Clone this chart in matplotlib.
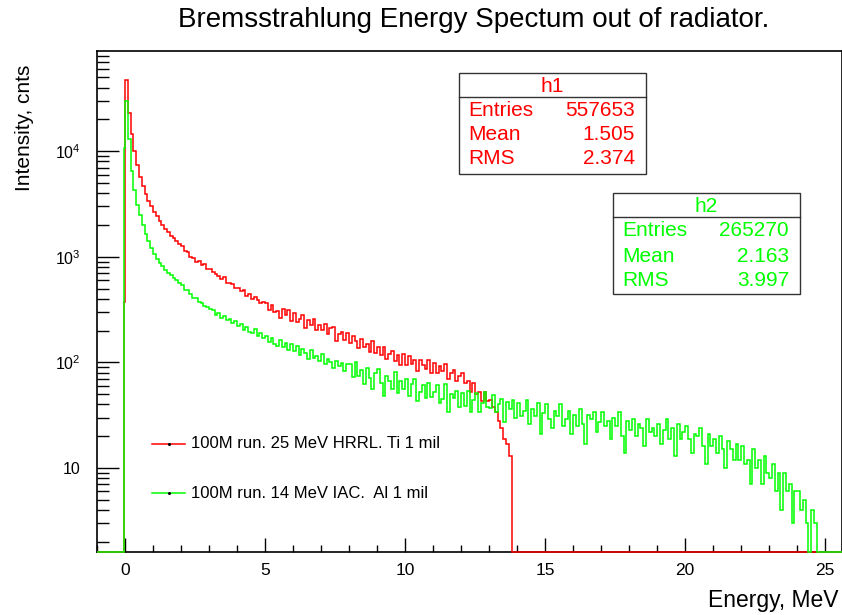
import numpy as np
import matplotlib
matplotlib.use("Agg")
import matplotlib.pyplot as plt
from matplotlib.patches import Rectangle
from matplotlib.lines import Line2D
from matplotlib.ticker import FixedLocator, MultipleLocator, NullFormatter

plt.rcParams['font.family'] = ['Liberation Sans', 'DejaVu Sans']
plt.rcParams['mathtext.fontset'] = 'custom'
plt.rcParams['mathtext.rm'] = 'Liberation Sans'
plt.rcParams['mathtext.it'] = 'Liberation Sans:italic'

W, H = 842, 615

# ---- data: counts per 0.1 MeV bin ----
red_first = 370      # narrow bin just below 0 MeV
green_first = 10700
red_counts = [
    47000, 23000, 14500, 10000, 7400, 5700, 4700, 3950, 3400, 3000,
    2660, 2420, 2190, 2010, 1840, 1730, 1590, 1510, 1400, 1330,
    1270, 1140, 1110, 1000, 985, 900, 910, 835, 850, 770,
    775, 715, 690, 665, 615, 640, 570, 560, 548, 505,
    512, 470, 488, 430, 445, 398, 420, 388, 362, 372,
    362, 312, 352, 299, 305, 264, 319, 281, 316, 248,
    292, 241, 258, 280, 211, 252, 226, 255, 203, 224,
    202, 231, 185, 210, 215, 160, 184, 194, 162, 189,
    151, 177, 160, 136, 168, 139, 150, 126, 158, 123,
    139, 118, 140, 107, 119, 128, 103, 118, 95, 119,
    95, 116, 97, 105, 83, 106, 95, 86, 106, 80,
    99, 80, 92, 82, 97, 69, 79, 84, 66, 75,
    79, 64, 67, 52, 64, 50, 53, 43, 53, 43,
    44, 38, 34, 28, 24, 19, 17, 13,
]
green_counts = [
    30000, 13000, 6500, 4300, 3100, 2500, 2000, 1650, 1400, 1200,
    1060, 950, 880, 810, 755, 710, 675, 625, 600, 560,
    540, 488, 482, 440, 410, 408, 372, 365, 340, 335,
    318, 312, 284, 292, 262, 276, 250, 258, 236, 246,
    222, 230, 204, 218, 196, 188, 205, 176, 190, 170,
    178, 156, 170, 150, 142, 162, 140, 154, 132, 150,
    128, 142, 118, 134, 124, 108, 130, 110, 116, 102,
    120, 96, 108, 100, 88, 104, 92, 98, 82, 96,
    97, 73, 101, 74, 84, 62, 89, 71, 56, 80,
    86, 64, 48, 75, 67, 56, 81, 51, 66, 56,
    70, 48, 62, 70, 43, 53, 61, 46, 64, 47,
    52, 61, 41, 45, 62, 34, 50, 46, 54, 38,
    51, 39, 54, 34, 44, 51, 34, 41, 52, 38,
    37, 49, 34, 40, 45, 27, 42, 36, 44, 30,
    41, 31, 35, 44, 26, 36, 31, 41, 21, 33,
    40, 29, 24, 35, 31, 40, 25, 29, 35, 21,
    32, 25, 36, 26, 17, 32, 29, 34, 22, 27,
    34, 25, 28, 19, 30, 25, 34, 20, 14, 28,
    23, 29, 20, 26, 24, 16, 29, 22, 24, 20,
    26, 17, 23, 29, 19, 24, 13, 26, 19, 22,
    25, 19, 14, 21, 20, 24, 16, 11, 21, 16,
    19, 14, 20, 15, 10, 18, 15, 12, 17, 12,
    16, 11, 12, 7, 15, 10, 12, 7, 13, 9,
    8, 11, 6, 9, 4, 9, 6, 7, 3, 6,
    6, 4, 5, 3, 1, 4, 3, 1,
]
h1_stats = [("Entries", "557653"), ("Mean", "1.505"), ("RMS", "2.374")]
h2_stats = [("Entries", "265270"), ("Mean", "2.163"), ("RMS", "3.997")]
legend_labels = ["100M run. 25 MeV HRRL. Ti 1 mil",
                 "100M run. 14 MeV IAC.  Al 1 mil"]
RED = '#ff0000'
GREEN = '#00ff00'

n_main = 256
edges = np.concatenate([[-1.0, -0.05], np.arange(n_main + 1) * 0.1])
red_full = np.concatenate([[0, red_first], red_counts,
                           np.zeros(n_main - len(red_counts))])
green_full = np.concatenate([[0, green_first], green_counts,
                             np.zeros(n_main - len(green_counts))])

ymin, ymax = 1.6, 8.9e4
xmin, xmax = -1.0, 25.6


def fx(x):
    return x / W


def fy(y):
    return 1 - y / H


fig = plt.figure(figsize=(W / 100, H / 100), dpi=100, facecolor='white')
ax = fig.add_axes([fx(97), fy(552), fx(842) - fx(97), fy(51) - fy(552)])
ax.set_yscale('log')
ax.set_xlim(xmin, xmax)
ax.set_ylim(ymin, ymax)

# ROOT draws under-range bins on the bottom frame
ax.stairs(np.maximum(red_full, ymin), edges, baseline=None, color=RED,
          lw=1.1, zorder=3, clip_on=False)
ax.stairs(np.maximum(green_full, ymin), edges, baseline=None, color=GREEN,
          lw=1.1, zorder=4, clip_on=False)

for s in ax.spines.values():
    s.set_linewidth(1.2)
    s.set_color('black')

ax.xaxis.set_major_locator(MultipleLocator(5))
ax.xaxis.set_minor_locator(MultipleLocator(1))
ax.tick_params(axis='x', which='major', direction='in', length=10, width=1,
               labelsize=12.5, pad=8, top=False)
ax.tick_params(axis='x', which='minor', direction='in', length=5, width=1,
               top=False)

ax.yaxis.set_major_locator(FixedLocator([10, 100, 1000, 10000]))
ax.set_yticklabels(['10', '$10^{2}$', '$10^{3}$', '$10^{4}$'])
minors = [m * 10 ** d for d in range(0, 5) for m in range(2, 10)]
ax.yaxis.set_minor_locator(FixedLocator(minors))
ax.yaxis.set_minor_formatter(NullFormatter())
ax.tick_params(axis='y', which='major', direction='in', length=16, width=1,
               labelsize=11.5, pad=12, right=False)
ax.tick_params(axis='y', which='minor', direction='in', length=8.5, width=1,
               right=False)

fig.text(fx(474), fy(20), "Bremsstrahlung Energy Spectum out of radiator.",
         ha='center', va='center', fontsize=20)
fig.text(fx(25), fy(65), "Intensity, cnts", rotation=90,
         ha='center', va='top', fontsize=15)
fig.text(fx(838), fy(600), "Energy, MeV", ha='right', va='center',
         fontsize=16.5)


def stat_box(x0, y0, x1, y1, ysep, name, rows, color, row_y):
    fig.patches.append(Rectangle((fx(x0), fy(y1)), fx(x1) - fx(x0),
                                 fy(y0) - fy(y1), transform=fig.transFigure,
                                 facecolor='white', edgecolor='#333333',
                                 lw=1.0, zorder=5))
    fig.lines.append(Line2D([fx(x0), fx(x1)], [fy(ysep), fy(ysep)],
                            transform=fig.transFigure, color='#333333',
                            lw=1.0, zorder=6))
    fig.text(fx((x0 + x1) / 2), fy((y0 + ysep) / 2 + 1), name, color=color,
             ha='center', va='center', fontsize=15, zorder=7)
    for (lab, val), yy in zip(rows, row_y):
        fig.text(fx(x0 + 9), fy(yy), lab, color=color, ha='left',
                 va='center', fontsize=15, zorder=7)
        fig.text(fx(x1 - 11), fy(yy), val, color=color, ha='right',
                 va='center', fontsize=15, zorder=7)


stat_box(459, 73, 646, 174, 97, "h1", h1_stats, RED, [110, 135, 159])
stat_box(613, 193, 800, 294, 217, "h2", h2_stats, GREEN, [231, 256, 280])

# legend
for lab, col, yy in zip(legend_labels, [RED, GREEN], [444, 493]):
    fig.lines.append(Line2D([fx(152), fx(185)], [fy(yy), fy(yy)],
                            transform=fig.transFigure, color=col, lw=1.1))
    fig.lines.append(Line2D([fx(168.5)], [fy(yy)], transform=fig.transFigure,
                            marker='o', markersize=1.2, color='black', lw=0))
    fig.text(fx(191), fy(yy), lab, ha='left', va='center', fontsize=12)

fig.savefig('out.png', dpi=100, facecolor='white')
